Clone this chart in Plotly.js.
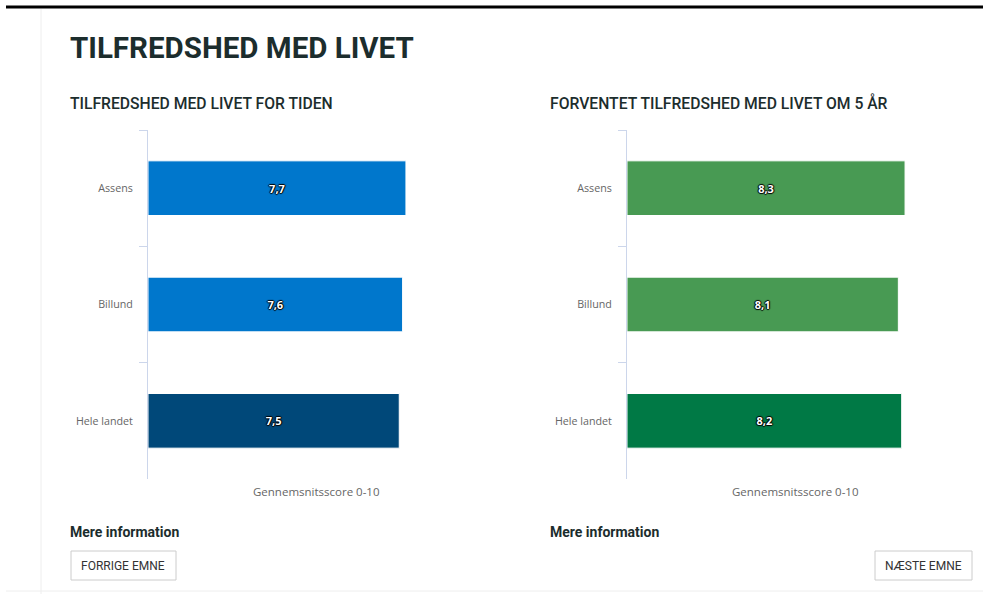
<!DOCTYPE html>
<html>
<head>
<meta charset="utf-8">
<script src="https://cdn.plot.ly/plotly-3.0.1.min.js"></script>
<style>html,body{margin:0;padding:0;background:#fff;}#chart{width:983px;height:594px;}</style>
</head>
<body>
<div id="chart"></div>
<script>
const categories = ["Assens", "Billund", "Hele landet"];
const currentValues = [7.7, 7.6, 7.5];
const futureValues = [8.3, 8.1, 8.2];
const currentColors = ["#0077cc", "#0077cc", "#004879"];
const futureColors = ["#489a53", "#489a53", "#007945"];
const pageTitle = "TILFREDSHED MED LIVET";
const leftTitle = "TILFREDSHED MED LIVET FOR TIDEN";
const rightTitle = "FORVENTET TILFREDSHED MED LIVET OM 5 ÅR";
const axisTitle = "Gennemsnitsscore 0-10";

const W = 983, H = 594;
const px = x => x / W;
const py = y => 1 - y / H;

const labelFont = {family: "Open Sans, sans-serif", size: 11, color: "#ffffff", weight: "bold",
  shadow: "1px 0 1px #000, -1px 0 1px #000, 0 1px 1px #000, 0 -1px 1px #000"};

function barTrace(vals, colors, xa, ya) {
  return {
    type: "bar", orientation: "h", y: categories, x: vals,
    xaxis: xa, yaxis: ya,
    marker: {color: colors, line: {color: "#ffffff", width: 1}},
    texttemplate: "%{x:.1f}", textposition: "inside", insidetextanchor: "middle",
    textfont: labelFont, hoverinfo: "skip", showlegend: false
  };
}

const data = [
  barTrace(currentValues, currentColors, "x", "y"),
  barTrace(futureValues, futureColors, "x2", "y2")
];

const yBase = {
  type: "category", autorange: "reversed", tickson: "boundaries",
  showline: true, linecolor: "#ccd6eb", linewidth: 1,
  ticks: "outside", ticklen: 8, tickcolor: "#ccd6eb", tickwidth: 1,
  showgrid: false, zeroline: false, fixedrange: true,
  tickfont: {family: "Open Sans, sans-serif", size: 10.7, color: "#666666"},
  domain: [py(479), py(130)], ticklabelstandoff: 12
};
const xBase = {range: [0, 10], showgrid: false, zeroline: false, showline: false,
  showticklabels: false, ticks: "", fixedrange: true};

const annFontTitle = {family: "Roboto, sans-serif", color: "#1c2d2d"};
const layout = {
  width: W, height: H, margin: {l: 0, r: 0, t: 0, b: 0},
  paper_bgcolor: "#ffffff", plot_bgcolor: "rgba(0,0,0,0)",
  separators: ",.", bargap: 0.53,
  xaxis: Object.assign({}, xBase, {domain: [px(148), px(483)], anchor: "y"}),
  yaxis: Object.assign({}, yBase, {anchor: "x"}),
  xaxis2: Object.assign({}, xBase, {domain: [px(627), px(962)], anchor: "y2"}),
  yaxis2: Object.assign({}, yBase, {anchor: "x2"}),
  shapes: [
    {type: "line", xref: "paper", yref: "paper", x0: px(6), x1: px(983), y0: py(7), y1: py(7), line: {color: "#000", width: 3}},
    {type: "line", xref: "paper", yref: "paper", x0: px(41), x1: px(41), y0: py(9), y1: py(594), line: {color: "#eeeeee", width: 1}},
    {type: "line", xref: "paper", yref: "paper", x0: px(6), x1: px(983), y0: py(591), y1: py(591), line: {color: "#eeeeee", width: 1}},
    {type: "rect", xref: "paper", yref: "paper", x0: px(71), x1: px(176), y0: py(551), y1: py(580), line: {color: "#cccccc", width: 1}, fillcolor: "#ffffff"},
    {type: "rect", xref: "paper", yref: "paper", x0: px(875), x1: px(972), y0: py(551), y1: py(580), line: {color: "#cccccc", width: 1}, fillcolor: "#ffffff"}
  ],
  annotations: [
    {text: pageTitle, xref: "paper", yref: "paper", x: px(68), y: py(48), xanchor: "left", yanchor: "middle", showarrow: false,
     font: Object.assign({size: 29.5, weight: "bold"}, annFontTitle)},
    {text: leftTitle, xref: "paper", yref: "paper", x: px(68), y: py(103), xanchor: "left", yanchor: "middle", showarrow: false,
     font: Object.assign({size: 15.7, weight: 500}, annFontTitle)},
    {text: rightTitle, xref: "paper", yref: "paper", x: px(548), y: py(103), xanchor: "left", yanchor: "middle", showarrow: false,
     font: Object.assign({size: 15.7, weight: 500}, annFontTitle)},
    {text: axisTitle, xref: "paper", yref: "paper", x: px(316), y: py(491), xanchor: "center", yanchor: "middle", showarrow: false,
     font: {family: "Open Sans, sans-serif", size: 11.5, color: "#666666"}},
    {text: axisTitle, xref: "paper", yref: "paper", x: px(795), y: py(491), xanchor: "center", yanchor: "middle", showarrow: false,
     font: {family: "Open Sans, sans-serif", size: 11.5, color: "#666666"}},
    {text: "Mere information", xref: "paper", yref: "paper", x: px(68), y: py(532), xanchor: "left", yanchor: "middle", showarrow: false,
     font: Object.assign({size: 14, weight: "bold"}, annFontTitle)},
    {text: "Mere information", xref: "paper", yref: "paper", x: px(548), y: py(532), xanchor: "left", yanchor: "middle", showarrow: false,
     font: Object.assign({size: 14, weight: "bold"}, annFontTitle)},
    {text: "FORRIGE EMNE", xref: "paper", yref: "paper", x: px(123.5), y: py(566), xanchor: "center", yanchor: "middle", showarrow: false,
     font: {family: "Roboto, sans-serif", size: 12, color: "#333333"}},
    {text: "NÆSTE EMNE", xref: "paper", yref: "paper", x: px(923.5), y: py(566), xanchor: "center", yanchor: "middle", showarrow: false,
     font: {family: "Roboto, sans-serif", size: 12, color: "#333333"}}
  ]
};

Plotly.newPlot("chart", data, layout, {displayModeBar: false, staticPlot: true});
</script>
</body>
</html>
